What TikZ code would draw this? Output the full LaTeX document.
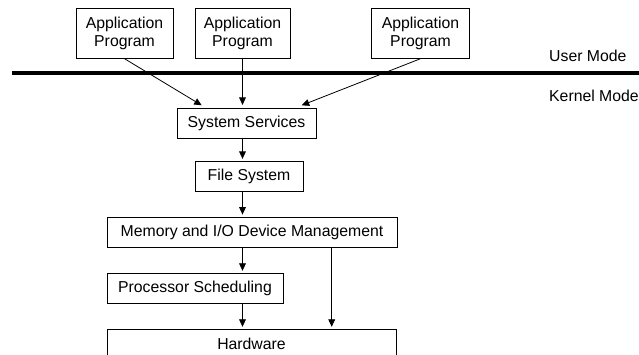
\documentclass[tikz,border=0pt]{standalone}
\usepackage{fontspec}
\setmainfont{Liberation Sans}
\usetikzlibrary{arrows.meta}
\begin{document}
\begin{tikzpicture}[x=1pt,y=-1pt,
  txt/.style={font=\fontsize{15.8}{18.2}\selectfont},
  box/.style={txt,draw,line width=0.8pt,inner sep=0pt,align=center},
  lbl/.style={txt,inner sep=0pt,anchor=base west},
  conn/.style={line width=0.8pt,-{Triangle[length=7.5pt,width=6.8pt]}}]
\useasboundingbox (0,0) rectangle (639,354);
\clip (0,0) rectangle (639,354);

% user-level programs
\node[box,minimum width=97pt,minimum height=50pt] (a1) at (124.5,33.3) {Application\\Program};
\node[box,minimum width=95pt,minimum height=50pt] (a2) at (242.5,33.3) {Application\\Program};
\node[box,minimum width=97.6pt,minimum height=50pt] (a3) at (420.5,33.3) {Application\\Program};

% user / kernel boundary
\coordinate (bl) at (11.7,72.8);
\coordinate (br) at (639,72.8);
\draw[line width=4.2pt] (bl) -- (br);
\node[lbl] (um) at (549,61.7) {User Mode};
\node[lbl] (km) at (549,101.6) {Kernel Mode};

% kernel layers
\node[box,minimum width=139pt,minimum height=30pt] (ss) at (246.5,123) {System Services};
\node[box,minimum width=108pt,minimum height=29.3pt] (fs) at (249,176.4) {File System};
\node[box,minimum width=290pt,minimum height=30pt] (mem) at (252,232) {Memory and I/O Device Management};
\node[box,minimum width=176pt,minimum height=30pt] (ps) at (195,288) {Processor Scheduling};
\node[box,minimum width=289pt,minimum height=30pt] (hw) at (251.5,344) {Hardware};

% calls into the kernel
\coordinate (t1) at (201.7,105.3);
\coordinate (t3) at (301.7,105.3);
\draw[conn] (a1.south) -- (t1);
\draw[conn,shorten >=2.7pt] (a2.south) -- (ss.north -| a2.south);
\draw[conn] (a3.south) -- (t3);

% layer to layer
\draw[conn,shorten >=2.5pt] (ss.south -| a2.south) -- (fs.north -| a2.south);
\draw[conn,shorten >=2pt] (fs.south -| a2.south) -- (mem.north -| a2.south);
\draw[conn,shorten >=1.8pt] (mem.south -| a2.south) -- (ps.north -| a2.south);
\draw[conn,shorten >=1.8pt] (ps.south -| a2.south) -- (hw.north -| a2.south);
\coordinate (rx) at (331.7,0);
\draw[conn,shorten >=1.8pt] (mem.south -| rx) -- (hw.north -| rx);
\end{tikzpicture}
\end{document}
